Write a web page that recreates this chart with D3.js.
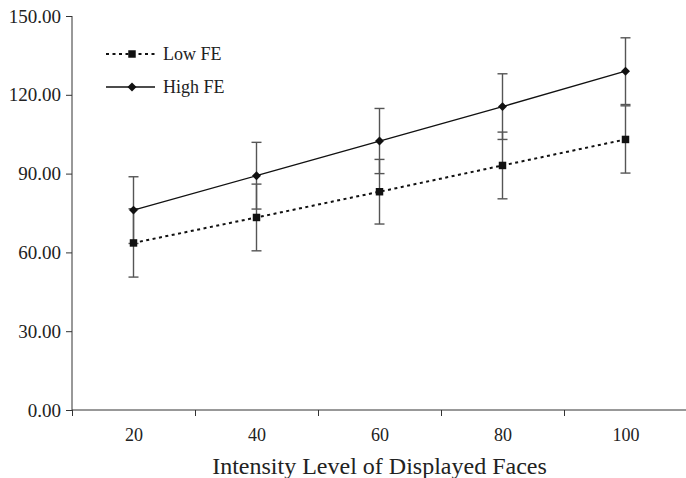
<!DOCTYPE html>
<html>
<head>
<meta charset="utf-8">
<script src="https://cdn.jsdelivr.net/npm/d3@7"></script>
<style>
  body { margin: 0; background: #fff; }
  svg { display: block; font-family: "Liberation Serif", "Times New Roman", serif; }
  .axis path, .axis line { stroke: #333; }
</style>
</head>
<body>
<svg width="686" height="478"></svg>
<script>
// data
var intensity = [20, 40, 60, 80, 100];
var lowFE = [63.6, 73.3, 83.1, 93.1, 103.0];
var lowErr = [13.0, 12.7, 12.3, 12.7, 12.8];
var highFE = [76.1, 89.2, 102.4, 115.5, 129.0];
var highErr = [12.7, 12.7, 12.4, 12.5, 12.7];
var yTicks = [0, 30, 60, 90, 120, 150];
var xBounds = [10, 30, 50, 70, 90, 110];

var svg = d3.select("svg");
var margin = {top: 16, right: 0, bottom: 68, left: 72};
var width = 615;
var height = 478 - margin.top - margin.bottom;

var x = d3.scaleLinear().domain([10, 110]).range([0, width]);
var y = d3.scaleLinear().domain([0, 150]).range([height, 0]);

var g = svg.append("g")
    .attr("transform", "translate(" + margin.left + "," + margin.top + ")");

// y axis
g.append("g")
    .attr("class", "axis")
    .call(d3.axisLeft(y).tickValues(yTicks).tickSize(6).tickPadding(5)
        .tickFormat(function(d) { return d3.format(".2f")(d); }))
    .call(function(a) { a.select(".domain").attr("d", "M0," + y(150) + "V" + y(0)); })
    .selectAll("text")
    .attr("font-size", 19)
    .attr("font-family", "Liberation Serif")
    .attr("fill", "#222");

// x axis: ticks between categories
g.append("g")
    .attr("class", "axis")
    .attr("transform", "translate(0," + height + ")")
    .call(d3.axisBottom(x).tickValues(xBounds).tickSize(6).tickFormat(""))
    .call(function(a) { a.select(".domain").attr("d", "M0,0H" + width); });

// x labels at category centres
g.append("g")
    .attr("transform", "translate(0," + height + ")")
    .call(d3.axisBottom(x).tickValues(intensity).tickSize(0).tickPadding(18))
    .call(function(a) { a.select(".domain").remove(); })
    .selectAll("text")
    .attr("font-size", 18)
    .attr("font-family", "Liberation Serif")
    .attr("fill", "#222");

g.append("text")
    .attr("x", width / 2)
    .attr("y", height + 64)
    .attr("text-anchor", "middle")
    .attr("font-size", 24)
    .attr("fill", "#222")
    .text("Intensity Level of Displayed Faces");

var series = [
  {name: "Low FE", values: lowFE, err: lowErr, dash: "3,3.5", width: 2, shape: d3.symbolSquare, size: 56, rot: 0},
  {name: "High FE", values: highFE, err: highErr, dash: null, width: 1.3, shape: d3.symbolSquare, size: 40, rot: 45}
];

var line = d3.line()
    .x(function(d, i) { return x(intensity[i]); })
    .y(function(d) { return y(d); });

// error bars
series.forEach(function(s) {
  var eb = g.append("g").attr("stroke", "#555").attr("stroke-width", 1.4);
  s.values.forEach(function(v, i) {
    var cx = x(intensity[i]);
    eb.append("line").attr("x1", cx).attr("x2", cx)
      .attr("y1", y(v - s.err[i])).attr("y2", y(v + s.err[i]));
    [v - s.err[i], v + s.err[i]].forEach(function(e) {
      eb.append("line").attr("x1", cx - 5).attr("x2", cx + 5)
        .attr("y1", y(e)).attr("y2", y(e));
    });
  });
});

// lines and markers
series.forEach(function(s) {
  g.append("path")
    .datum(s.values)
    .attr("fill", "none")
    .attr("stroke", "#111")
    .attr("stroke-width", s.width)
    .attr("stroke-dasharray", s.dash)
    .attr("d", line);
  g.selectAll(null)
    .data(s.values)
    .enter().append("path")
    .attr("transform", function(d, i) {
      return "translate(" + x(intensity[i]) + "," + y(d) + ") rotate(" + s.rot + ")";
    })
    .attr("d", d3.symbol().type(s.shape).size(s.size))
    .attr("fill", "#111");
});

// legend
var legend = svg.append("g").attr("transform", "translate(106,54)");
series.forEach(function(s, i) {
  var row = legend.append("g").attr("transform", "translate(0," + (i * 33) + ")");
  row.append("line")
    .attr("x1", 0).attr("x2", 49)
    .attr("stroke", "#111")
    .attr("stroke-width", s.width)
    .attr("stroke-dasharray", s.dash);
  row.append("path")
    .attr("transform", "translate(26,0) rotate(" + s.rot + ")")
    .attr("d", d3.symbol().type(s.shape).size(s.size))
    .attr("fill", "#111");
  row.append("text")
    .attr("x", 57)
    .attr("dy", "0.33em")
    .attr("font-size", 18)
    .attr("fill", "#222")
    .text(s.name);
});
</script>
</body>
</html>
